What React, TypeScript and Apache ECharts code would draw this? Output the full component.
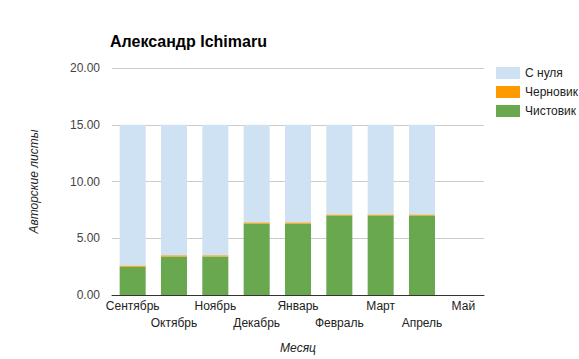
import React, { useEffect, useRef } from "react";
import * as echarts from "echarts";

const months = ["Сентябрь", "Октябрь", "Ноябрь", "Декабрь", "Январь", "Февраль", "Март", "Апрель", "Май"];
const clean = [2.5, 3.4, 3.4, 6.3, 6.3, 7.0, 7.0, 7.0, 0];
const draft = [0.1, 0.1, 0.1, 0.1, 0.1, 0.1, 0.1, 0.1, 0];
const scratch = [12.4, 11.5, 11.5, 8.6, 8.6, 7.9, 7.9, 7.9, 0];
const seriesNames = ["С нуля", "Черновик", "Чистовик"];

export default function App() {
  const ref = useRef<HTMLDivElement>(null);
  useEffect(() => {
    document.body.style.margin = "0";
    const chart = echarts.init(ref.current!, null, { renderer: "svg" });
    const font = "Arial, 'Liberation Sans', sans-serif";
    chart.setOption({
      animation: false,
      textStyle: { fontFamily: font },
      title: {
        text: "Александр Ichimaru",
        left: 105,
        top: 28,
        textStyle: { fontFamily: font, fontSize: 16, fontWeight: "bold", color: "#000" },
      },
      legend: {
        orient: "vertical",
        left: 496,
        top: 67,
        padding: 0,
        itemWidth: 24,
        itemHeight: 12,
        itemGap: 7,
        data: seriesNames,
        textStyle: { fontFamily: font, fontSize: 12, color: "#222" },
        icon: "rect",
      },
      grid: { left: 112, right: 95, top: 68, bottom: 64, outerBoundsMode: "none", containLabel: false },
      xAxis: {
        type: "category",
        data: months,
        name: "Месяц",
        nameLocation: "middle",
        nameGap: 47,
        nameTextStyle: { fontFamily: font, fontSize: 12, fontStyle: "italic", color: "#222" },
        axisLine: { lineStyle: { color: "#333", width: 1 } },
        axisTick: { show: false },
        axisLabel: {
          interval: 0,
          color: "#222",
          fontSize: 12,
          fontFamily: font,
          margin: 2,
          lineHeight: 17,
          formatter: (v: string, i: number) => (i % 2 === 1 ? "\n" + v : v),
        },
      },
      yAxis: {
        type: "value",
        min: 0,
        max: 20,
        interval: 5,
        name: "Авторские листы",
        nameLocation: "middle",
        nameGap: 72,
        nameRotate: 90,
        nameTextStyle: { fontFamily: font, fontSize: 12, fontStyle: "italic", color: "#222" },
        axisLine: { show: false },
        axisTick: { show: false },
        axisLabel: {
          color: "#444",
          fontSize: 12,
          fontFamily: font,
          margin: 12,
          formatter: (v: number) => v.toFixed(2),
        },
        splitLine: { lineStyle: { color: "#ccc" } },
      },
      series: [
        { name: "Чистовик", type: "bar", stack: "s", data: clean, barWidth: "63%", itemStyle: { color: "#6aa84f" } },
        { name: "Черновик", type: "bar", stack: "s", data: draft, itemStyle: { color: "#ff9900" } },
        { name: "С нуля", type: "bar", stack: "s", data: scratch, itemStyle: { color: "#cfe2f3" } },
      ],
    });
    return () => chart.dispose();
  }, []);
  return <div ref={ref} style={{ width: 579, height: 359 }} />;
}
